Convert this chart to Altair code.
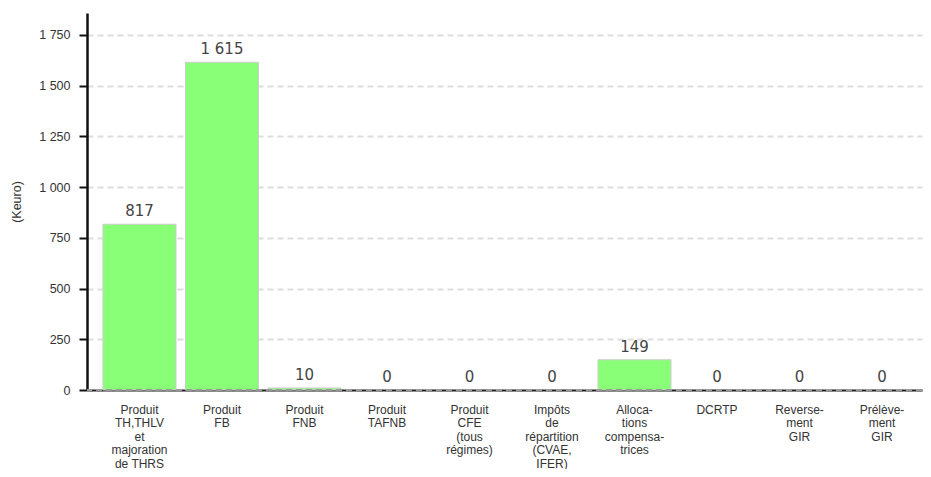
import altair as alt
import pandas as pd

categories = [
    "Produit|TH,THLV|et|majoration|de THRS",
    "Produit|FB",
    "Produit|FNB",
    "Produit|TAFNB",
    "Produit|CFE|(tous|régimes)",
    "Impôts|de|répartition|(CVAE,|IFER)",
    "Alloca-|tions|compensa-|trices",
    "DCRTP",
    "Reverse-|ment|GIR",
    "Prélève-|ment|GIR",
]
values = [817, 1615, 10, 0, 0, 0, 149, 0, 0, 0]
y_ticks = [0, 250, 500, 750, 1000, 1250, 1500, 1750]

df = pd.DataFrame({"cat": categories, "val": values})

x_enc = alt.X(
    "cat:N",
    sort=categories,
    title=None,
    scale=alt.Scale(paddingInner=0.115, paddingOuter=0.118, align=0.82),
    axis=alt.Axis(
        labelExpr="split(datum.label, '|')",
        labelAngle=0,
        labelBaseline="top",
        labelPadding=14,
        labelLineHeight=13.5,
        labelFont="Liberation Sans",
        labelFontSize=12,
        labelColor="#333333",
        labelLimit=200,
        ticks=False,
        domainColor="#222222",
        domainWidth=2,
        grid=False,
    ),
)

y_enc = alt.Y(
    "val:Q",
    title="(Keuro)",
    scale=alt.Scale(domain=[0, 1858], nice=False),
    axis=alt.Axis(
        values=y_ticks,
        labelExpr="replace(format(datum.value, ','), ',', ' ')",
        labelFont="Liberation Sans",
        labelFontSize=12.5,
        labelColor="#333333",
        labelPadding=9,
        tickSize=8,
        tickWidth=2,
        tickColor="#111111",
        domainColor="#111111",
        domainWidth=2.5,
        gridColor="#dddddd",
        gridWidth=2,
        gridDash=[6, 4],
        titleFont="Liberation Sans",
        titleFontSize=12.5,
        titleFontWeight="normal",
        titleColor="#333333",
        titlePadding=15,
    ),
)

bars = alt.Chart(df).mark_bar(
    color="#88ff77", stroke="#cccccc", strokeWidth=1
).encode(
    x=x_enc,
    y=y_enc,
    strokeOpacity=alt.condition("datum.val > 0", alt.value(1), alt.value(0)),
)

text = alt.Chart(df).mark_text(
    font="DejaVu Sans",
    fontSize=15,
    color="#444444",
    baseline="alphabetic",
    dy=-8,
).transform_calculate(
    lab="replace(format(datum.val, ','), ',', ' ')"
).encode(x=alt.X("cat:N", sort=categories), y="val:Q", text="lab:N")

zero = alt.Chart(df).mark_rule(
    color="#999999", strokeDash=[6, 4], strokeWidth=2
).encode(y=alt.datum(0))

chart = alt.layer(bars, zero, text).properties(
    width=835,
    height=377,
    padding={"left": 2, "top": 5, "right": 0, "bottom": 0},
    background="white",
).configure_view(stroke=None)

chart.save("out.html", embed_options={"renderer": "svg", "actions": False})
